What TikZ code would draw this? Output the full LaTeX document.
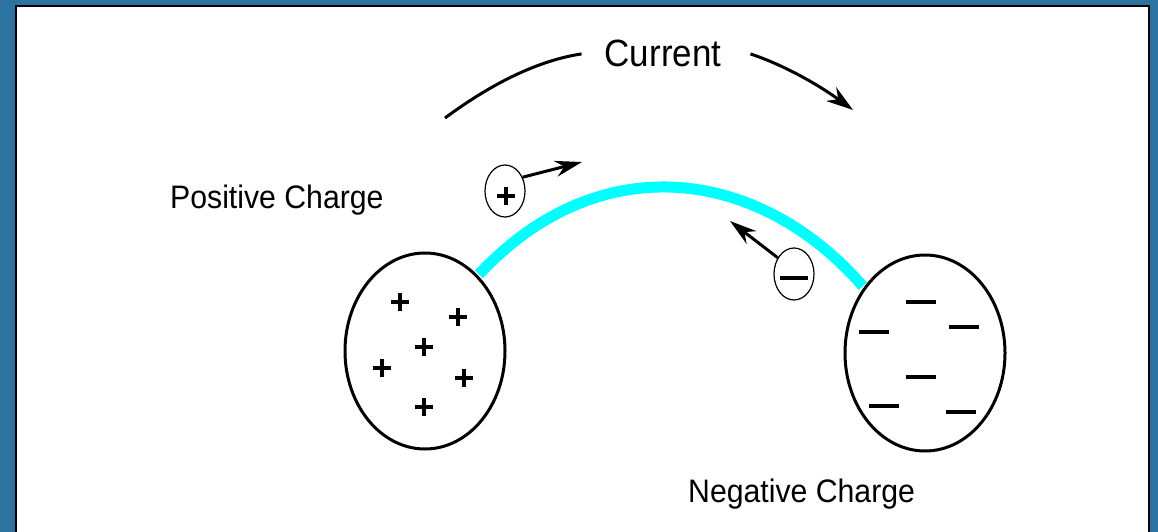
\documentclass[tikz,border=0pt]{standalone}
\usepackage{fontspec}
\newfontfamily\helv{Liberation Sans}
\usetikzlibrary{arrows.meta,shapes.geometric}
\definecolor{frameblue}{RGB}{44,115,162}
\definecolor{wirecyan}{RGB}{0,255,255}

\begin{document}
\begin{tikzpicture}[x=1pt, y=-1pt,
  ball/.style={draw, ellipse, line width=3pt, minimum width=160pt, minimum height=196pt, inner sep=0pt},
  chg/.style={draw, ellipse, line width=1.2pt, minimum width=40pt, minimum height=52pt, inner sep=0pt},
  sign/.style={line width=4pt},
  lab/.style={font=\helv\fontsize{32.5}{36}\selectfont, xscale=.93, inner sep=0pt, anchor=base west},
  flow/.style={line width=3pt, -{Stealth[length=27pt, width=17pt]}},
  move/.style={line width=3pt, -{Stealth[length=27pt, width=16pt]}}]
\useasboundingbox (0,0) rectangle (1158,532);
% frame
\fill[frameblue] (0,0) rectangle (1158,532);
\filldraw[fill=white, draw=black, line width=2pt] (16,6) rectangle (1149,545);

% the two charged bodies
\node[ball] (lball) at (425,351) {};
\node[ball] (rball) at (925,353) {};
\draw[wirecyan, line width=11pt, shorten <=1.5pt, shorten >=1.5pt]
  (lball.55) .. controls (600,145) and (760,168) .. (rball.133);
\foreach \px/\py in {400/302, 458/317, 424/347, 382/368, 464/378, 424/407}
  \draw[sign] (\px-9,\py) -- (\px+9,\py) (\px,\py-9) -- (\px,\py+9);
\foreach \mx/\my in {921/302, 964/327, 874/332, 921/377, 884/406, 961/412}
  \draw[sign] (\mx-15,\my) -- (\mx+15,\my);

% current
\node[font=\helv\fontsize{38}{42}\selectfont, xscale=.92, inner xsep=25pt, inner ysep=0pt, anchor=base] (cur) at (663,67) {Current};
\coordinate (curL) at (445,118);
\coordinate (curR) at (853,110);
\draw[line width=3pt] (curL) .. controls (495,81) and (541,60) .. (cur.west);
\draw[flow] ([xshift=6pt]cur.east) .. controls (781,64) and (816,83) .. (curR);

% moving charges
\node[chg] (pos) at (505,191) {};
\draw[sign] (497,196) -- (515,196) (506,187) -- (506,205);
\coordinate (ptip) at (582,162);
\draw[move] (pos.38) -- (ptip);
\node[chg] (neg) at (794,274) {};
\draw[sign] (780,278) -- (808,278);
\coordinate (ntip) at (730,221);
\draw[move] (neg.135) -- (ntip);

\node[lab] (plab) at (170,208) {Positive Charge};
\node[lab] (nlab) at (688,502) {Negative Charge};
\end{tikzpicture}
\end{document}
